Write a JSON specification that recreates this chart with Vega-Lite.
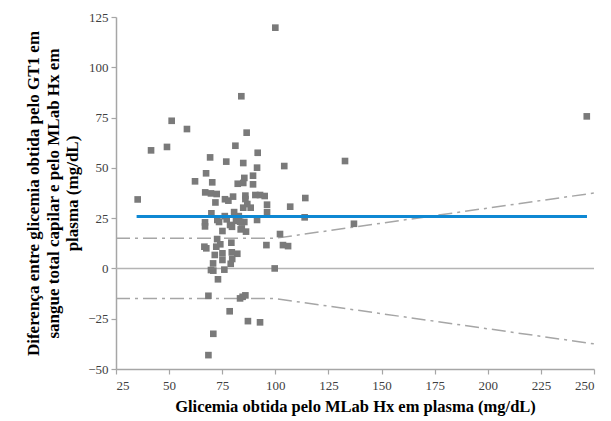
{
  "$schema": "https://vega.github.io/schema/vega-lite/v6.json",
  "width": 478,
  "height": 352,
  "autosize": {"type": "none"},
  "padding": {"left": 116, "top": 17, "right": 17, "bottom": 52},
  "background": "white",
  "config": {
    "view": {"stroke": null},
    "font": "Liberation Serif",
    "axis": {
      "grid": false,
      "domainColor": "#a6a6a6",
      "domainWidth": 1.5,
      "tickColor": "#a6a6a6",
      "tickWidth": 1.2,
      "tickSize": 5,
      "labelFont": "Liberation Serif",
      "labelFontSize": 13,
      "labelColor": "#404040",
      "titleFont": "Liberation Serif",
      "titleFontWeight": "bold",
      "titleColor": "#000000"
    }
  },
  "datasets": {
    "points": [
      {"x": 100, "y": 119.7}, {"x": 84, "y": 85.6}, {"x": 51.2, "y": 73.4}, {"x": 58.4, "y": 69.3},
      {"x": 86.5, "y": 67.5}, {"x": 41.5, "y": 58.7}, {"x": 49, "y": 60.4}, {"x": 81.2, "y": 61},
      {"x": 69.3, "y": 55.2}, {"x": 76.9, "y": 53.1}, {"x": 84.9, "y": 52.4}, {"x": 91.7, "y": 57.5},
      {"x": 91.4, "y": 50.1}, {"x": 104.2, "y": 50.9}, {"x": 67.4, "y": 47.3}, {"x": 62.2, "y": 43.3},
      {"x": 70.3, "y": 42.8}, {"x": 85.4, "y": 45}, {"x": 89.5, "y": 46.1}, {"x": 82.3, "y": 42.1},
      {"x": 84.9, "y": 42.5}, {"x": 89.5, "y": 41.8}, {"x": 67, "y": 37.8}, {"x": 69.7, "y": 37.3},
      {"x": 72.4, "y": 37}, {"x": 76.3, "y": 34.4}, {"x": 77.9, "y": 33.7}, {"x": 80.1, "y": 35.7},
      {"x": 85.9, "y": 36.2}, {"x": 85.9, "y": 34.5}, {"x": 90.6, "y": 36.5}, {"x": 92.8, "y": 36.5},
      {"x": 95, "y": 36}, {"x": 114.1, "y": 35}, {"x": 35.2, "y": 34.3}, {"x": 86.8, "y": 32},
      {"x": 84.9, "y": 30.2}, {"x": 88.4, "y": 30.2}, {"x": 96.1, "y": 31.7}, {"x": 96.1, "y": 28},
      {"x": 107, "y": 30.7}, {"x": 113.8, "y": 25.4}, {"x": 69.9, "y": 27.4}, {"x": 66.9, "y": 22.9},
      {"x": 66.9, "y": 20.9}, {"x": 72.7, "y": 24.1}, {"x": 73.5, "y": 23.1}, {"x": 76.2, "y": 26},
      {"x": 77.1, "y": 24.4}, {"x": 80.6, "y": 28}, {"x": 78.7, "y": 21.6}, {"x": 79.6, "y": 20.7},
      {"x": 81.5, "y": 23.7}, {"x": 82.8, "y": 26}, {"x": 83.7, "y": 19.4}, {"x": 85.4, "y": 23.1},
      {"x": 86.2, "y": 18.3}, {"x": 91.4, "y": 24.1}, {"x": 75.1, "y": 18.6}, {"x": 72.6, "y": 14.6},
      {"x": 74.1, "y": 12}, {"x": 72.2, "y": 10.8}, {"x": 66.6, "y": 10.8}, {"x": 67.5, "y": 10},
      {"x": 79.3, "y": 12.8}, {"x": 95.8, "y": 11.6}, {"x": 102.2, "y": 17.1}, {"x": 103.6, "y": 11.6},
      {"x": 106, "y": 11.1}, {"x": 79.5, "y": 8}, {"x": 82.1, "y": 7.3}, {"x": 71.5, "y": 6.7},
      {"x": 75.1, "y": 7.5}, {"x": 75.1, "y": 4.2}, {"x": 79.7, "y": 4.7}, {"x": 70.7, "y": 2.5},
      {"x": 79, "y": 2.3}, {"x": 69.7, "y": -0.8}, {"x": 70.8, "y": -1.1}, {"x": 76, "y": -0.6},
      {"x": 99.7, "y": 0}, {"x": 73, "y": -5.4}, {"x": 68.5, "y": -13.6}, {"x": 83.4, "y": -14.9},
      {"x": 84.6, "y": -14.1}, {"x": 85.9, "y": -13.4}, {"x": 78.5, "y": -21.3}, {"x": 87.1, "y": -26.2},
      {"x": 92.8, "y": -26.8}, {"x": 70.8, "y": -32.5}, {"x": 68.5, "y": -43.1}, {"x": 246.6, "y": 75.6},
      {"x": 132.8, "y": 53.4}, {"x": 137, "y": 22.2}, {"x": 71.8, "y": 32.8}, {"x": 83.4, "y": 23.2},
      {"x": 84.2, "y": 19.9}
    ],
    "limits": [
      {"x": 25, "y": 15, "s": "upper"}, {"x": 100, "y": 15, "s": "upper"}, {"x": 250, "y": 37.5, "s": "upper"},
      {"x": 25, "y": -15, "s": "lower"}, {"x": 100, "y": -15, "s": "lower"}, {"x": 250, "y": -37.5, "s": "lower"}
    ],
    "zero": [{"x": 25, "x2": 250, "y": 0}],
    "mean": [{"x": 34.7, "x2": 246.7, "y": 25.8}]
  },
  "layer": [
    {
      "data": {"name": "zero"},
      "mark": {"type": "rule", "color": "#b4b4b4", "strokeWidth": 1.5},
      "encoding": {
        "x": {"field": "x", "type": "quantitative", "scale": {"domain": [25, 250], "nice": false, "zero": false},
          "axis": {"values": [25, 50, 75, 100, 125, 150, 175, 200, 225, 250], "title": "Glicemia obtida pelo MLab Hx em plasma (mg/dL)", "titleFontSize": 16.5, "titlePadding": 6, "labelPadding": 5}},
        "x2": {"field": "x2"},
        "y": {"field": "y", "type": "quantitative", "scale": {"domain": [-50, 125], "nice": false, "zero": false},
          "axis": {"values": [-50, -25, 0, 25, 50, 75, 100, 125], "title": ["Diferença entre glicemia obtida pelo GT1 em", "sangue total capilar e pelo MLab Hx em", "plasma (mg/dL)"], "titleFontSize": 17, "titlePadding": 6, "labelPadding": 3, "titleLineHeight": 19.5}}
      }
    },
    {
      "data": {"name": "limits"},
      "mark": {"type": "line", "color": "#a6a6a6", "strokeWidth": 1.5, "strokeDash": [14, 5, 3, 5]},
      "encoding": {
        "x": {"field": "x", "type": "quantitative"},
        "y": {"field": "y", "type": "quantitative"},
        "detail": {"field": "s"}
      }
    },
    {
      "data": {"name": "points"},
      "mark": {"type": "point", "shape": "square", "filled": true, "size": 44, "color": "#7a7a7a", "opacity": 1},
      "encoding": {
        "x": {"field": "x", "type": "quantitative"},
        "y": {"field": "y", "type": "quantitative"}
      }
    },
    {
      "data": {"name": "mean"},
      "mark": {"type": "rule", "color": "#0e88d3", "strokeWidth": 3},
      "encoding": {
        "x": {"field": "x", "type": "quantitative"},
        "x2": {"field": "x2"},
        "y": {"field": "y", "type": "quantitative"}
      }
    }
  ]
}
